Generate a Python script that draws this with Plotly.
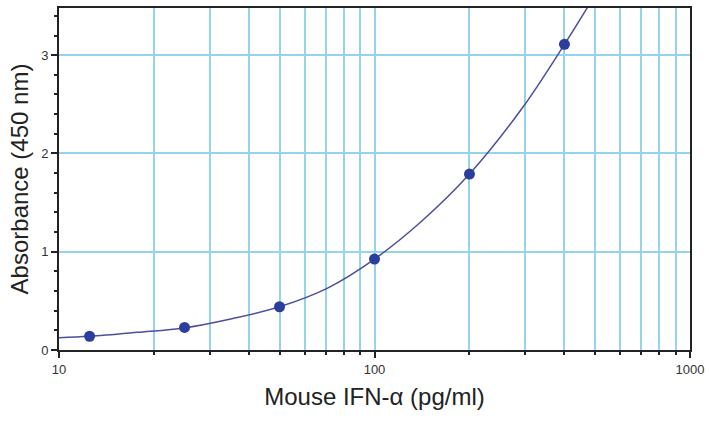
import plotly.graph_objects as go

# Standards (pg/ml) and measured absorbance
conc = [12.5, 25, 50, 100, 200, 400]
absorbance = [0.14, 0.23, 0.44, 0.925, 1.79, 3.11]

# Fitted standard curve
curve_x = [10, 12.5, 17.7, 25, 35, 50, 71, 100, 141, 200, 296, 400, 474]
curve_y = [0.125, 0.14, 0.18, 0.225, 0.315, 0.44, 0.63, 0.925, 1.31, 1.79, 2.475, 3.11, 3.49]

x_major = [10, 100, 1000]
x_major_text = ["10", "100", "1000"]
x_minor = [20, 30, 40, 50, 60, 70, 80, 90, 200, 300, 400, 500, 600, 700, 800, 900]
y_major = [0, 1, 2, 3]

grid_col = "#96d4ee"
font = "Liberation Sans, Arial, sans-serif"

fig = go.Figure()
fig.add_trace(go.Scatter(x=curve_x, y=curve_y, mode="lines", line=dict(color="#4b4f9c", width=1.5, shape="spline"),
                         hoverinfo="skip", showlegend=False))
fig.add_trace(go.Scatter(x=conc, y=absorbance, mode="markers",
                         marker=dict(color="#2b3e9b", size=11), showlegend=False))

fig.update_layout(
    width=709, height=421,
    margin=dict(l=59, r=19, t=8, b=71),
    paper_bgcolor="white", plot_bgcolor="white",
    font=dict(family=font, color="#333333"),
)
fig.update_xaxes(
    type="log", range=[1, 3], automargin=False,
    tickmode="array", tickvals=x_major, ticktext=x_major_text,
    tickfont=dict(size=13, color="#333"),
    ticks="outside", ticklen=6, tickwidth=1.5, tickcolor="#222",
    showgrid=True, gridcolor=grid_col, gridwidth=1.5,
    minor=dict(tickmode="array", tickvals=x_minor, ticks="outside", ticklen=3, tickcolor="#222",
               showgrid=True, gridcolor=grid_col, gridwidth=1.5),
    showline=True, linecolor="#222", linewidth=2, mirror=True,
    zeroline=False,
    title=dict(text="Mouse IFN-α (pg/ml)", font=dict(size=24, color="#222"), standoff=13),
)
fig.update_yaxes(
    range=[0, 3.48], automargin=False,
    tickmode="array", tickvals=y_major,
    tickfont=dict(size=13, color="#333"),
    ticks="outside", ticklen=6, tickwidth=1.5, tickcolor="#222",
    showgrid=True, gridcolor=grid_col, gridwidth=1.5,
    minor=dict(dtick=0.2, ticks="outside", ticklen=3, tickcolor="#222", showgrid=False),
    showline=True, linecolor="#222", linewidth=2, mirror=True,
    zeroline=False,
    title=dict(text="Absorbance (450 nm)", font=dict(size=24, color="#222"), standoff=6),
)

# remove the default page margin so the 709x421 figure fills the window exactly
fig.write_html("out.html", config={"displayModeBar": False},
               post_script="document.body.style.margin='0';")
